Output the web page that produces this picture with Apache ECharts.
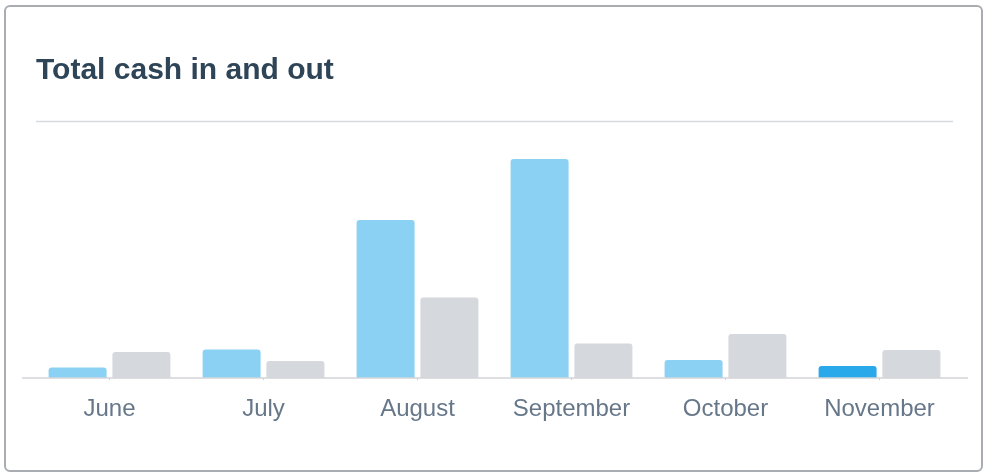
<!DOCTYPE html>
<html>
<head>
<meta charset="utf-8">
<script src="https://cdn.jsdelivr.net/npm/echarts@6/dist/echarts.min.js"></script>
<style>
html,body{margin:0;padding:0;background:#fff;}
#chart{width:985px;height:474px;}
</style>
</head>
<body>
<div id="chart"></div>
<script>
const titleText = "Total cash in and out";
const months = ["June", "July", "August", "September", "October", "November"];
const cashIn = [1050, 2850, 15800, 21900, 1800, 1200];
const cashOut = [2600, 1700, 8050, 3450, 4400, 2800];
const highlightIndex = 5;

const chart = echarts.init(document.getElementById('chart'), null, {renderer: 'canvas'});
const blue = '#8bd1f4';
const blueDark = '#2aa9ea';
const gray = '#d5d8dc';

chart.setOption({
  animation: false,
  title: {
    text: titleText,
    left: 36,
    top: 56,
    padding: 0,
    textStyle: {fontFamily: 'Liberation Sans, Arial, sans-serif', fontSize: 30, fontWeight: 'bold', color: '#2e4457'}
  },
  grid: {left: 32.5, width: 924, top: 140, bottom: 96, containLabel: false},
  xAxis: {
    type: 'category',
    data: months,
    axisLine: {show: false},
    axisTick: {show: true, alignWithLabel: true, length: 2, lineStyle: {color: '#c9ccd0'}},
    axisLabel: {fontFamily: 'Liberation Sans, Arial, sans-serif', fontSize: 24, color: '#67778a', margin: 19}
  },
  yAxis: {type: 'value', min: 0, max: 23800, show: false, splitLine: {show: false}},
  series: [
    {
      name: 'Cash in', type: 'bar', barWidth: 58, barGap: '10%',
      data: cashIn.map((v, i) => i === highlightIndex ? {value: v, itemStyle: {color: blueDark}} : v),
      itemStyle: {color: blue, borderRadius: [3, 3, 0, 0]}
    },
    {
      name: 'Cash out', type: 'bar', barWidth: 58, barGap: '10%',
      data: cashOut,
      itemStyle: {color: gray, borderRadius: [3, 3, 0, 0]}
    }
  ],
  graphic: [
    {type: 'rect', shape: {x: 5, y: 6, width: 977, height: 465, r: 5}, style: {fill: 'none', stroke: '#a9acb1', lineWidth: 2}, z: 0},
    {type: 'line', shape: {x1: 36, y1: 121.5, x2: 953, y2: 121.5}, style: {stroke: '#d6d9dd', lineWidth: 1.5}},
    {type: 'line', shape: {x1: 22, y1: 378, x2: 968, y2: 378}, style: {stroke: '#d2d5d9', lineWidth: 1.5}, z: 10}
  ]
});
</script>
</body>
</html>
